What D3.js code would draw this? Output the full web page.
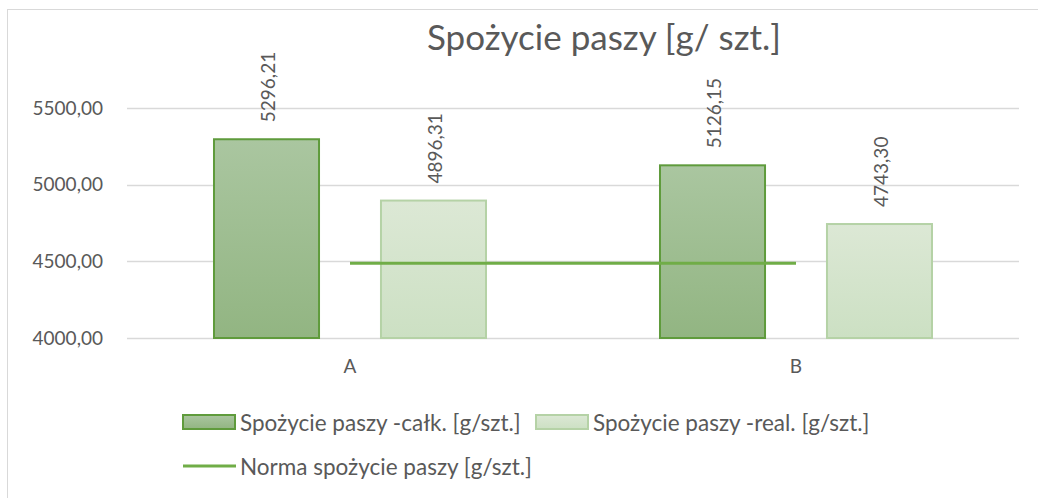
<!DOCTYPE html>
<html>
<head>
<meta charset="utf-8">
<script src="https://cdn.jsdelivr.net/npm/d3@7"></script>
<style>
  body { margin: 0; background: #fff; }
  text { font-family: Lato, "Open Sans", sans-serif; }
</style>
</head>
<body>
<div id="chart"></div>
<script>
// Chart data
var categories = ["A", "B"];
var seriesNames = ["Spożycie paszy -całk. [g/szt.]", "Spożycie paszy -real. [g/szt.]"];
var calkValues = [5296.21, 5126.15];
var realValues = [4896.31, 4743.30];
var normaName = "Norma spożycie paszy [g/szt.]";
var normaValues = [4487, 4487];
var yTicks = [4000, 4500, 5000, 5500];
var title = "Spożycie paszy [g/ szt.]";

var svgWidth = 1038;
var svgHeight = 498;
var margin = { top: 108, right: 19, bottom: 160, left: 127 };
var chartWidth = svgWidth - margin.left - margin.right;
var chartHeight = svgHeight - margin.top - margin.bottom;

var fmt = function(v) { return d3.format(".2f")(v).replace(".", ","); };

var svg = d3.select("#chart")
  .append("svg")
  .attr("width", svgWidth)
  .attr("height", svgHeight);

// gradients for bars
var defs = svg.append("defs");
var grads = [
  { id: "gDark", top: "#aac6a0", bottom: "#92b582" },
  { id: "gLight", top: "#dce8d5", bottom: "#cce0c3" }
];
grads.forEach(function(g) {
  var lg = defs.append("linearGradient").attr("id", g.id)
    .attr("x1", 0).attr("y1", 0).attr("x2", 0).attr("y2", 1);
  lg.append("stop").attr("offset", "0%").attr("stop-color", g.top);
  lg.append("stop").attr("offset", "100%").attr("stop-color", g.bottom);
});
var fills = ["url(#gDark)", "url(#gLight)"];
var strokes = ["#5f9b3c", "#b5d2a6"];

// outer border
svg.append("rect")
  .attr("x", 7.5).attr("y", 9.5)
  .attr("width", 1040).attr("height", 500)
  .attr("fill", "none")
  .attr("stroke", "#d9d9d9");

svg.append("text")
  .attr("x", 604)
  .attr("y", 50)
  .attr("text-anchor", "middle")
  .attr("font-size", 35)
  .attr("fill", "#595959")
  .text(title);

var chartGroup = svg.append("g")
  .attr("transform", `translate(${margin.left}, ${margin.top})`);

var x0 = d3.scaleBand()
  .domain(categories)
  .range([0, chartWidth]);

var x1 = d3.scaleBand()
  .domain([0, 1])
  .range([0, x0.bandwidth()])
  .paddingInner(0.371)
  .paddingOuter(0.521);

var y = d3.scaleLinear()
  .domain([4000, 5500])
  .range([chartHeight, 0]);

// gridlines
chartGroup.append("g")
  .selectAll("line")
  .data(yTicks)
  .enter()
  .append("line")
  .attr("x1", 0).attr("x2", chartWidth)
  .attr("y1", d => Math.round(y(d)) + 0.5)
  .attr("y2", d => Math.round(y(d)) + 0.5)
  .attr("stroke", "#d9d9d9")
  .attr("stroke-width", 1.3);

// y axis labels
var leftAxis = d3.axisLeft(y).tickValues(yTicks).tickFormat(fmt).tickSize(0).tickPadding(24);
var yAxisG = chartGroup.append("g").call(leftAxis);
yAxisG.select(".domain").remove();
yAxisG.selectAll("text")
  .attr("font-size", 19)
  .attr("font-family", "Lato")
  .attr("fill", "#595959");

// x axis labels
var bottomAxis = d3.axisBottom(x0).tickSize(0).tickPadding(22);
var xAxisG = chartGroup.append("g")
  .attr("transform", `translate(0, ${chartHeight})`)
  .call(bottomAxis);
xAxisG.select(".domain").remove();
xAxisG.selectAll("text")
  .attr("font-size", 19)
  .attr("font-family", "Lato")
  .attr("fill", "#595959");

// bars
var rows = categories.map(function(c, i) {
  return { cat: c, values: [calkValues[i], realValues[i]] };
});

var groups = chartGroup.append("g")
  .selectAll("g")
  .data(rows)
  .enter()
  .append("g")
  .attr("transform", d => `translate(${x0(d.cat)}, 0)`);

groups.selectAll("rect")
  .data(d => d.values.map((v, k) => ({ v: v, k: k })))
  .enter()
  .append("rect")
  .attr("x", d => x1(d.k))
  .attr("y", d => y(d.v))
  .attr("width", x1.bandwidth())
  .attr("height", d => chartHeight - y(d.v))
  .attr("fill", d => fills[d.k])
  .attr("stroke", d => strokes[d.k])
  .attr("stroke-width", 2);

// value labels, rotated
groups.selectAll("text.val")
  .data(d => d.values.map((v, k) => ({ v: v, k: k })))
  .enter()
  .append("text")
  .attr("class", "val")
  .attr("transform", d => `translate(${x1(d.k) + x1.bandwidth() / 2 + 1}, ${y(d.v) - 17}) rotate(-90)`)
  .attr("dominant-baseline", "central")
  .attr("font-size", 19)
  .attr("fill", "#595959")
  .text(d => fmt(d.v));

// norma line
var line = d3.line()
  .x((d, i) => x0(categories[i]) + x0.bandwidth() / 2)
  .y(d => y(d));

chartGroup.append("path")
  .datum(normaValues)
  .attr("d", line)
  .attr("fill", "none")
  .attr("stroke", "#70ad47")
  .attr("stroke-width", 3);

// legend
var legend = svg.append("g");
var legendItems = [
  { x: 183, y: 422, type: "bar", k: 0, name: seriesNames[0] },
  { x: 536, y: 422, type: "bar", k: 1, name: seriesNames[1] },
  { x: 183, y: 466, type: "line", name: normaName }
];
legendItems.forEach(function(it) {
  if (it.type === "bar") {
    legend.append("rect")
      .attr("x", it.x).attr("y", it.y - 7)
      .attr("width", 52).attr("height", 14)
      .attr("fill", fills[it.k])
      .attr("stroke", strokes[it.k])
      .attr("stroke-width", 2);
  } else {
    legend.append("line")
      .attr("x1", it.x).attr("x2", it.x + 53)
      .attr("y1", it.y).attr("y2", it.y)
      .attr("stroke", "#70ad47")
      .attr("stroke-width", 3);
  }
  legend.append("text")
    .attr("x", it.x + 57)
    .attr("y", it.y)
    .attr("dominant-baseline", "central")
    .attr("font-size", 22.5)
    .attr("fill", "#595959")
    .text(it.name);
});
</script>
</body>
</html>
